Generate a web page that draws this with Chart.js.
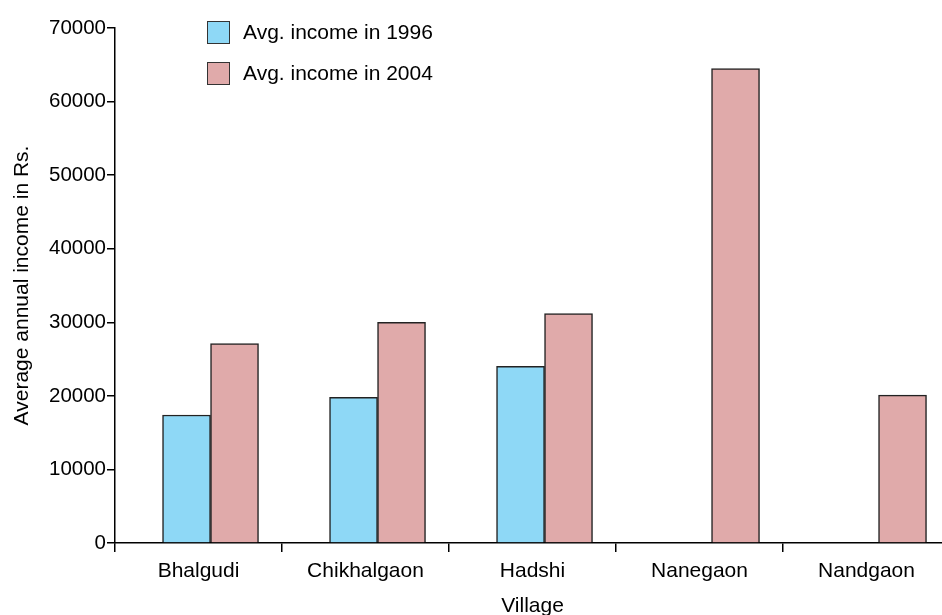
<!DOCTYPE html>
<html lang="en">
<head>
    <meta charset="UTF-8">
    <title>Average annual income by village</title>
    <script src="https://cdn.jsdelivr.net/npm/chart.js"></script>
    <style>
        html, body { margin: 0; padding: 0; background: #fff; overflow: hidden; }
        #wrap { position: relative; width: 942px; height: 615px; overflow: hidden; }
        #legend { position: absolute; left: 207px; top: 21px; font-family: "Liberation Sans", Arial, sans-serif; font-size: 21px; color: #000; }
        .item { display: flex; align-items: center; height: 22px; margin-bottom: 19px; }
        .box { width: 21px; height: 21px; border: 1px solid #333; margin-right: 13px; }
    </style>
</head>
<body>
    <div id="wrap">
        <canvas id="grafico" width="950" height="615"></canvas>
        <div id="legend"></div>
    </div>

    <script>
        // datos
        const categories = ['Bhalgudi', 'Chikhalgaon', 'Hadshi', 'Nanegaon', 'Nandgaon'];
        const income1996 = [17400, 19800, 24000, null, null];
        const income2004 = [27100, 30000, 31200, 64500, 20100];
        const seriesNames = ['Avg. income in 1996', 'Avg. income in 2004'];
        const yTicks = [0, 10000, 20000, 30000, 40000, 50000, 60000, 70000];

        const colors = ['#8ed8f6', '#e0aaaa'];
        const barShift = 0.072; // bars sit a bit right of the category centre

        Chart.defaults.font.family = '"Liberation Sans", Arial, sans-serif';
        Chart.defaults.color = '#000';

        const toPoints = arr => arr.map((v, i) => ({ x: i, y: v }));

        const ctx = document.getElementById('grafico').getContext('2d');
        const chart = new Chart(ctx, {
            type: 'bar',
            data: {
                labels: categories,
                datasets: [
                    { label: seriesNames[0], data: toPoints(income1996), xAxisID: 'x2', backgroundColor: colors[0] },
                    { label: seriesNames[1], data: toPoints(income2004), xAxisID: 'x2', backgroundColor: colors[1] }
                ]
            },
            options: {
                responsive: false,
                animation: false,
                layout: { padding: { top: 28, right: 0, left: 0, bottom: 0 } },
                datasets: {
                    bar: { barThickness: 48, borderColor: '#222', borderWidth: 1.5, grouped: true }
                },
                plugins: {
                    legend: { display: false },
                    tooltip: { enabled: false }
                },
                scales: {
                    x: {
                        type: 'category',
                        labels: categories,
                        offset: true,
                        grid: { offset: true, drawOnChartArea: false, drawTicks: true, tickLength: 9, color: '#000', lineWidth: 1.5 },
                        border: { display: true, color: '#000', width: 1.5 },
                        ticks: { color: '#000', font: { size: 21 }, padding: 7 },
                        title: { display: true, text: 'Village', color: '#000', font: { size: 21, lineHeight: 0.8 }, padding: { top: 0, bottom: 0 } },
                        afterFit: s => { s.height = 72; }
                    },
                    x2: {
                        type: 'linear',
                        display: false,
                        offset: false,
                        min: -0.5 - barShift,
                        max: categories.length - 0.5 - barShift,
                        ticks: { stepSize: 1, includeBounds: false }
                    },
                    y: {
                        min: yTicks[0],
                        max: yTicks[yTicks.length - 1],
                        afterBuildTicks: s => { s.ticks = yTicks.map(v => ({ value: v })); },
                        grid: { drawOnChartArea: false, drawTicks: true, tickLength: 8, color: '#000', lineWidth: 1.5 },
                        border: { display: true, color: '#000', width: 1.5 },
                        ticks: { color: '#000', font: { size: 20.5 }, padding: 1, callback: v => String(v) },
                        title: { display: true, text: 'Average annual income in Rs.', color: '#000', font: { size: 21, lineHeight: 1 }, padding: { top: 12, bottom: 0 } },
                        afterFit: s => { s.width = 115; }
                    }
                }
            }
        });

        // leyenda en HTML
        const legend = document.getElementById('legend');
        chart.data.datasets.forEach(ds => {
            const item = document.createElement('div');
            item.className = 'item';
            item.innerHTML = '<span class="box" style="background:' + ds.backgroundColor + '"></span>' + ds.label;
            legend.appendChild(item);
        });
    </script>
</body>
</html>
